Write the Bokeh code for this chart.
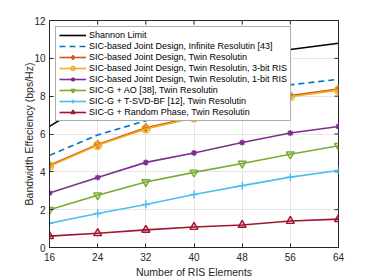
import math
from bokeh.plotting import figure
from bokeh.models import FixedTicker, Range1d, Legend
from bokeh.embed import file_html
from bokeh.resources import INLINE

x_elements = [16, 24, 32, 40, 48, 56, 64]
shannon = [6.4, 7.95, 8.9, 9.6, 10.17, 10.47, 10.8]
infinite = [4.87, 5.95, 6.7, 7.5, 8.25, 8.6, 8.89]
twin = [4.35, 5.45, 6.33, 6.9, 7.45, 8.03, 8.37]
twin_3bit = [4.3, 5.4, 6.27, 6.85, 7.4, 7.97, 8.32]
twin_1bit = [2.88, 3.7, 4.5, 5.0, 5.55, 6.05, 6.4]
sicg_ao = [1.99, 2.76, 3.46, 3.97, 4.44, 4.93, 5.38]
sicg_tsvd = [1.28, 1.8, 2.27, 2.8, 3.27, 3.72, 4.07]
sicg_random = [0.6, 0.75, 0.93, 1.08, 1.19, 1.4, 1.5]
x_ticks = [16, 24, 32, 40, 48, 56, 64]
y_ticks = [0, 2, 4, 6, 8, 10, 12]
x_min, x_max = 16, 64
y_min, y_max = 0, 12

FONT = "Liberation Sans"
AX = "#262626"

p = figure(width=370, height=280, output_backend="svg", toolbar_location=None,
           x_range=Range1d(x_min, x_max), y_range=Range1d(y_min, y_max),
           min_border_left=49, min_border_right=32, min_border_top=20, min_border_bottom=31)
p.background_fill_color = "white"
p.border_fill_color = "white"
p.outline_line_color = AX
p.outline_line_width = 1

for ax in (p.xaxis[0], p.yaxis[0]):
    ax.major_tick_in = 4
    ax.major_tick_out = 0
    ax.minor_tick_line_color = None
    ax.axis_line_color = AX
    ax.major_tick_line_color = AX
    ax.major_label_text_font = FONT
    ax.major_label_text_font_size = "10px"
    ax.major_label_text_color = AX
    ax.axis_label_text_font = FONT
    ax.axis_label_text_font_size = "10.5px"
    ax.axis_label_text_font_style = "normal"
    ax.axis_label_text_color = AX

p.xaxis.ticker = FixedTicker(ticks=x_ticks)
p.yaxis.ticker = FixedTicker(ticks=y_ticks)
p.xaxis.axis_label = "Number of RIS Elements"
p.yaxis.axis_label = "Bandwidth Effeciency (bps/Hz)"
p.xaxis.major_label_standoff = 5
p.xaxis.axis_label_standoff = 2
p.yaxis.major_label_standoff = 4
p.yaxis.axis_label_standoff = -4

p.grid.grid_line_color = "#e6e6e6"
p.grid.grid_line_width = 1

# box ticks on top and right edges (inside, clipped to frame)
p.scatter(x_ticks, [y_max] * len(x_ticks), marker="dash", size=8, angle=math.pi / 2,
          line_color=AX, line_width=1)
p.scatter([x_max] * len(y_ticks), y_ticks, marker="dash", size=8,
          line_color=AX, line_width=1)

series = [
    ("Shannon Limit", shannon, "#000000", None, "solid"),
    ("SIC-based Joint Design, Infinite Resolutin [43]", infinite, "#0072BD", None, "6 4"),
    ("SIC-based Joint Design, Twin Resolutin", twin, "#D95319", "diamond", "solid"),
    ("SIC-based Joint Design, Twin Resolutin, 3-bit RIS", twin_3bit, "#EDB120", "circle", "solid"),
    ("SIC-based Joint Design, Twin Resolutin, 1-bit RIS", twin_1bit, "#7E2F8E", "asterisk", "solid"),
    ("SIC-G + AO [38], Twin Resolutin", sicg_ao, "#77AC30", "inverted_triangle", "solid"),
    ("SIC-G + T-SVD-BF [12], Twin Resolutin", sicg_tsvd, "#4DBEEE", "cross", "solid"),
    ("SIC-G + Random Phase, Twin Resolutin", sicg_random, "#A2142F", "triangle", "solid"),
]

items = []
for label, ys, color, marker, dash in series:
    rs = [p.line(x_elements, ys, line_color=color, line_width=1.6, line_dash=dash)]
    if marker:
        sz = 6 if marker == "asterisk" else 8
        rs.append(p.scatter(x_elements, ys, marker=marker, size=sz, line_color=color,
                            line_width=1.4, fill_color=color, fill_alpha=0.2))
    items.append((label, rs))

legend = Legend(items=items, location="top_left")
legend.margin = 6
legend.padding = 3
legend.spacing = 1
legend.label_height = 10
legend.glyph_height = 10
legend.glyph_width = 27
legend.label_standoff = 3
legend.label_text_font = FONT
legend.label_text_font_size = "9px"
legend.label_text_color = "#000000"
legend.border_line_color = "#5a5a5a"
legend.border_line_width = 0.8
legend.background_fill_color = "white"
legend.background_fill_alpha = 1
p.add_layout(legend, "center")

open("out.html", "w").write(file_html(p, INLINE))
